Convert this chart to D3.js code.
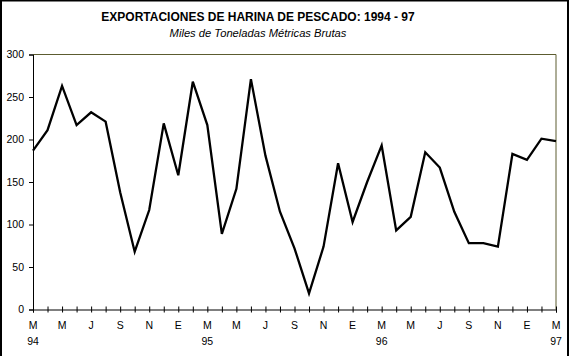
<!DOCTYPE html>
<html><head><meta charset="utf-8">
<script src="https://cdn.jsdelivr.net/npm/d3@7"></script>
<style>body{margin:0;background:#fff}svg{display:block}text{font-family:"Liberation Sans",Arial,sans-serif}</style>
</head><body><svg id="c" width="569" height="356"></svg>
<script>
const months = ["M","A","M","J","J","A","S","O","N","D","E","F","M","A","M","J","J","A","S","O","N","D","E","F","M","A","M","J","J","A","S","O","N","D","E","F","M"];
const years = ["94","","","","","","","","","","","","95","","","","","","","","","","","","96","","","","","","","","","","","","97"];
const values = [187,211,263,217,232,221,138,68,117,219,158,268,217,89,142,271,181,115,72,19,74,172,103,150,193,93,109,185,167,115,78,78,74,183,176,201,198];
const yTicks = [0,50,100,150,200,250,300];
const title = "EXPORTACIONES DE HARINA DE PESCADO: 1994 - 97";
const subtitle = "Miles de Toneladas Métricas Brutas";

const svg = d3.select("#c");
const L=33, R=556, T=54.5, B=309.5;
const x = d3.scaleLinear().domain([0, values.length-1]).range([L, R]);
const y = d3.scaleLinear().domain([0, 300]).range([B, T]);

// outer border
svg.append("path").attr("d","M1,356V0.5H568V356").attr("fill","none").attr("stroke","#000").attr("stroke-width",2);

svg.append("text").attr("x",258).attr("y",21).attr("text-anchor","middle")
  .attr("font-size",12).attr("font-weight","bold").text(title);
svg.append("text").attr("x",258).attr("y",37).attr("text-anchor","middle")
  .attr("font-size",11.2).attr("font-style","italic").text(subtitle);

// frame top & right
svg.append("path").attr("d",`M${L},${T}H${R}V${B}`).attr("fill","none").attr("stroke","#5c5c30").attr("stroke-width",1);

// y axis
const ya = svg.append("g").attr("transform",`translate(${L},0)`)
  .call(d3.axisLeft(y).tickValues(yTicks).tickSize(4).tickPadding(5));
ya.select(".domain").attr("stroke","#000");
ya.selectAll("text").attr("font-size",10.5).attr("fill","#000").attr("font-family","Liberation Sans, Arial, sans-serif");

// x axis
const idx = d3.range(values.length);
const xa = svg.append("g").attr("transform",`translate(0,${B})`)
  .call(d3.axisBottom(x).tickValues(idx).tickSize(3).tickFormat(""));
xa.select(".domain").attr("stroke","#000");
xa.selectAll(".tick line").attr("y1",-3).attr("y2",3);
const lab = svg.append("g");
lab.selectAll("text.m").data(idx.filter(i=>i%2===0)).join("text")
  .attr("x",i=>x(i)).attr("y",329).attr("text-anchor","middle").attr("font-size",10.5).text(i=>months[i]);
lab.selectAll("text.yr").data(idx.filter(i=>years[i])).join("text")
  .attr("x",i=>x(i)).attr("y",345).attr("text-anchor","middle").attr("font-size",10.5).text(i=>years[i]);

// line
svg.append("path").datum(values)
  .attr("d", d3.line().x((d,i)=>x(i)).y(d=>y(d)))
  .attr("fill","none").attr("stroke","#000").attr("stroke-width",2.3).attr("stroke-linejoin","miter");
</script></body></html>
